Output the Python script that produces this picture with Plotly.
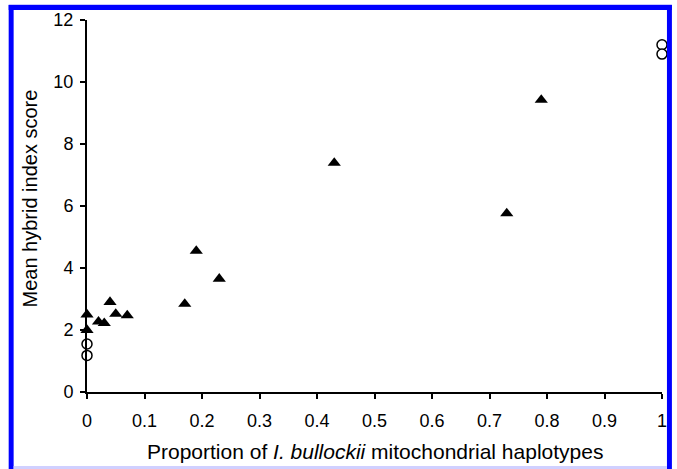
import plotly.graph_objects as go

# Data
tri_x = [0.0, 0.0, 0.02, 0.03, 0.04, 0.05, 0.07, 0.17, 0.19, 0.23, 0.43, 0.73, 0.79]
tri_y = [2.5, 2.0, 2.27, 2.22, 2.9, 2.52, 2.47, 2.84, 4.55, 3.65, 7.39, 5.76, 9.42]
circ_x = [0.0, 0.0, 1.0, 1.0]
circ_y = [1.55, 1.18, 11.2, 10.9]
x_ticks = [0, 0.1, 0.2, 0.3, 0.4, 0.5, 0.6, 0.7, 0.8, 0.9, 1]
y_ticks = [0, 2, 4, 6, 8, 10, 12]

W, H = 677, 469
L, R, T, B = 87, 10, 20, 77
PW, PH = W - L - R, H - T - B


def px(x):
    return (x - L) / PW


def py(y):
    return (H - B - y) / PH


FONT = "Liberation Sans, Arial, sans-serif"
TICK_SIZE = 18

fig = go.Figure()
fig.add_trace(go.Scatter(
    x=tri_x, y=tri_y, mode="markers",
    marker=dict(symbol="triangle-up", size=11.5, color="black", line=dict(width=0)),
    cliponaxis=False, showlegend=False))
fig.add_trace(go.Scatter(
    x=circ_x, y=circ_y, mode="markers",
    marker=dict(symbol="circle", size=10, color="white", line=dict(width=1.5, color="black")),
    cliponaxis=False, showlegend=False))

blue = "#0000ff"
shapes = [
    dict(type="rect", xref="paper", yref="paper", x0=px(8), x1=px(13), y0=py(469), y1=py(5),
         fillcolor=blue, line=dict(width=0), layer="above"),
    dict(type="rect", xref="paper", yref="paper", x0=px(8), x1=px(677), y0=py(10), y1=py(5),
         fillcolor=blue, line=dict(width=0), layer="above"),
    dict(type="rect", xref="paper", yref="paper", x0=px(672), x1=px(677), y0=py(469), y1=py(5),
         fillcolor=blue, line=dict(width=0), layer="above"),
    dict(type="rect", xref="paper", yref="paper", x0=px(13), x1=px(672), y0=py(469), y1=py(466),
         fillcolor="#d0d0ff", line=dict(width=0), layer="above"),
    dict(type="rect", xref="paper", yref="paper", x0=px(8), x1=px(677), y0=py(5), y1=py(4),
         fillcolor="#c8c8ff", line=dict(width=0), layer="above"),
]

annotations = [
    dict(text="Proportion of <i>I. bullockii</i> mitochondrial haplotypes",
         xref="paper", yref="paper", x=0.5, y=py(451), xanchor="center", yanchor="middle",
         showarrow=False, font=dict(family=FONT, size=21, color="black")),
    dict(text="Mean hybrid index score",
         xref="paper", yref="paper", x=px(30), y=py(198), xanchor="center", yanchor="middle",
         textangle=-90, showarrow=False, font=dict(family=FONT, size=20, color="black")),
]

fig.update_layout(
    width=W, height=H,
    margin=dict(l=L, r=R, t=T, b=B),
    paper_bgcolor="white", plot_bgcolor="white",
    font=dict(family=FONT, size=TICK_SIZE, color="black"),
    shapes=shapes, annotations=annotations,
    xaxis=dict(range=[0, 1], tickvals=x_ticks, ticktext=[str(v) for v in x_ticks],
               showgrid=False, zeroline=False, showline=True, linecolor="black", linewidth=2,
               ticks="outside", ticklen=5, tickwidth=2, tickcolor="black",
               ticklabelstandoff=6,
               tickfont=dict(family=FONT, size=TICK_SIZE, color="black")),
    yaxis=dict(range=[0, 12], tickvals=y_ticks,
               showgrid=False, zeroline=False, showline=True, linecolor="black", linewidth=2,
               ticks="outside", ticklen=5, tickwidth=2, tickcolor="black",
               ticklabelstandoff=3,
               tickfont=dict(family=FONT, size=TICK_SIZE, color="black")),
)

fig.write_html("out.html", config={"displayModeBar": False},
               post_script="document.body.style.margin='0';document.body.style.overflow='hidden';")
